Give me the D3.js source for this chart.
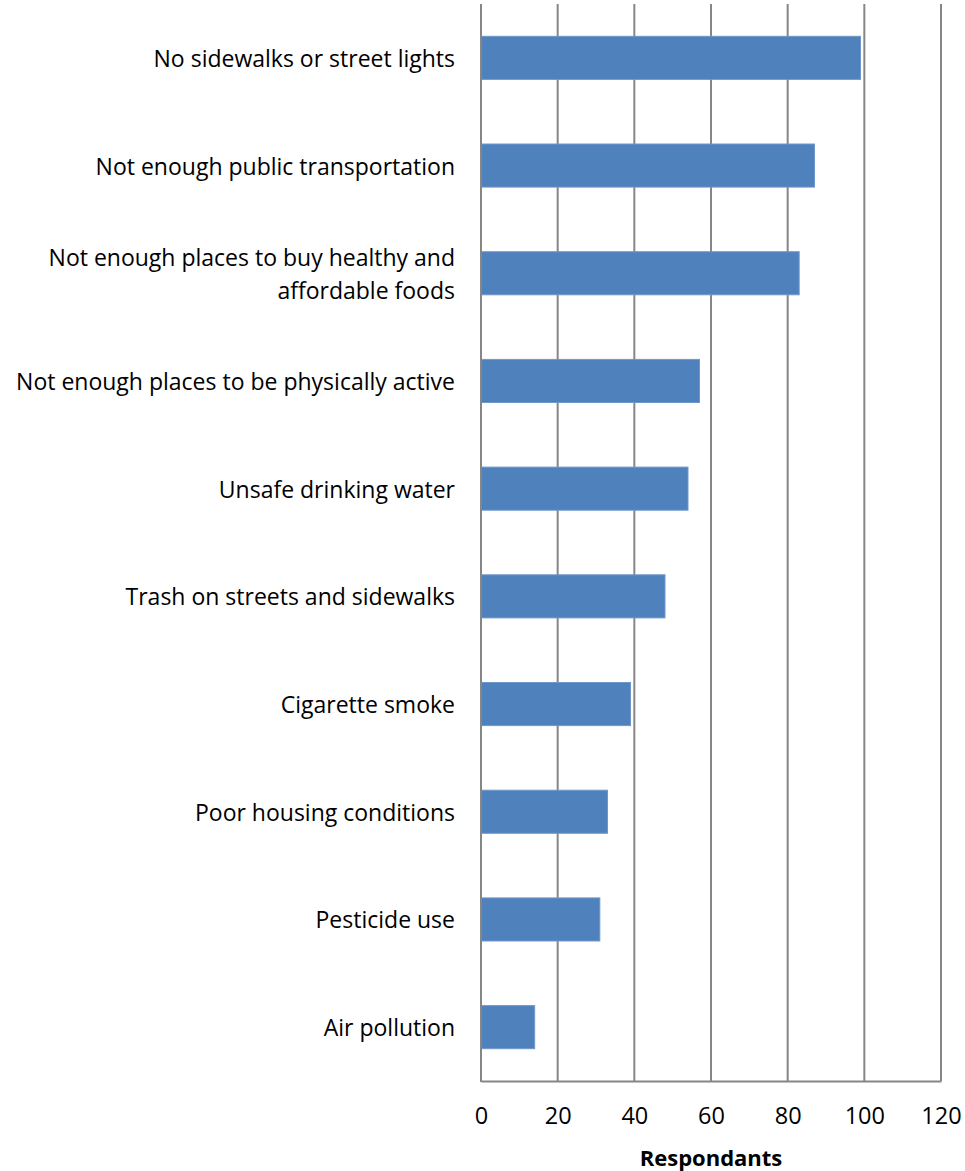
<!DOCTYPE html>
<html>
<head>
<meta charset="utf-8">
<script src="https://cdn.jsdelivr.net/npm/d3@7"></script>
<style>
  html, body { margin: 0; padding: 0; background: #fff; }
  text { font-family: "Open Sans", "Liberation Sans", sans-serif; fill: #000; }
</style>
</head>
<body>
<svg id="chart" width="965" height="1171"></svg>
<script>
// Environmental concerns reported by survey respondents
const categories = [
  ["No sidewalks or street lights"],
  ["Not enough public transportation"],
  ["Not enough places to buy healthy and", "affordable foods"],
  ["Not enough places to be physically active"],
  ["Unsafe drinking water"],
  ["Trash on streets and sidewalks"],
  ["Cigarette smoke"],
  ["Poor housing conditions"],
  ["Pesticide use"],
  ["Air pollution"]
];
const respondents = [99, 87, 83, 57, 54, 48, 39, 33, 31, 14];
const xTicks = [0, 20, 40, 60, 80, 100, 120];
const axisTitle = "Respondants";

const svg = d3.select("#chart");
const margin = { left: 481, right: 24, top: 4, bottom: 90 };
const W = 965, H = 1171;
const plotBottom = 1081;

const x = d3.scaleLinear().domain([0, 120]).range([margin.left, W - margin.right]);
const y = d3.scaleBand()
  .domain(d3.range(categories.length))
  .range([margin.top, plotBottom])
  .paddingInner(0.6)
  .paddingOuter(0.3);

// vertical gridlines
svg.append("g")
  .selectAll("line")
  .data(xTicks)
  .join("line")
  .attr("x1", d => x(d)).attr("x2", d => x(d))
  .attr("y1", margin.top).attr("y2", plotBottom)
  .attr("stroke", "#868686")
  .attr("stroke-width", 2);

// bars
svg.append("g")
  .selectAll("rect")
  .data(respondents)
  .join("rect")
  .attr("x", x(0))
  .attr("y", (d, i) => y(i))
  .attr("width", d => x(d) - x(0))
  .attr("height", y.bandwidth())
  .attr("fill", "#4F81BD")
  .attr("stroke", "#6E98CC")
  .attr("stroke-width", 1);

// bottom axis
const xAxis = d3.axisBottom(x).tickValues(xTicks).tickSize(0).tickPadding(26);
const gx = svg.append("g")
  .attr("transform", `translate(0,${plotBottom})`)
  .call(xAxis);
gx.select(".domain").attr("stroke", "#868686").attr("stroke-width", 2);
gx.selectAll("text")
  .style("font-size", "23.5px")
  .style("font-family", "'Open Sans', sans-serif");

// left axis line
svg.append("line")
  .attr("x1", x(0)).attr("x2", x(0))
  .attr("y1", margin.top).attr("y2", plotBottom + 1)
  .attr("stroke", "#868686")
  .attr("stroke-width", 2);

// category labels
const lineH = 33;
const labels = svg.append("g")
  .selectAll("text")
  .data(categories)
  .join("text")
  .attr("text-anchor", "end")
  .attr("font-size", "23px")
  .attr("x", 455)
  .attr("y", (d, i) => y(i) + y.bandwidth() / 2 - (d.length - 1) * lineH / 2)
  .attr("dominant-baseline", "central");
labels.selectAll("tspan")
  .data(d => d)
  .join("tspan")
  .attr("x", 455)
  .attr("dy", (d, j) => j === 0 ? 0 : lineH)
  .text(d => d);

// axis title
svg.append("text")
  .attr("x", (x(0) + x(120)) / 2)
  .attr("y", 1157)
  .attr("text-anchor", "middle")
  .attr("dominant-baseline", "central")
  .attr("font-size", "22px")
  .attr("font-weight", "bold")
  .text(axisTitle);
</script>
</body>
</html>
